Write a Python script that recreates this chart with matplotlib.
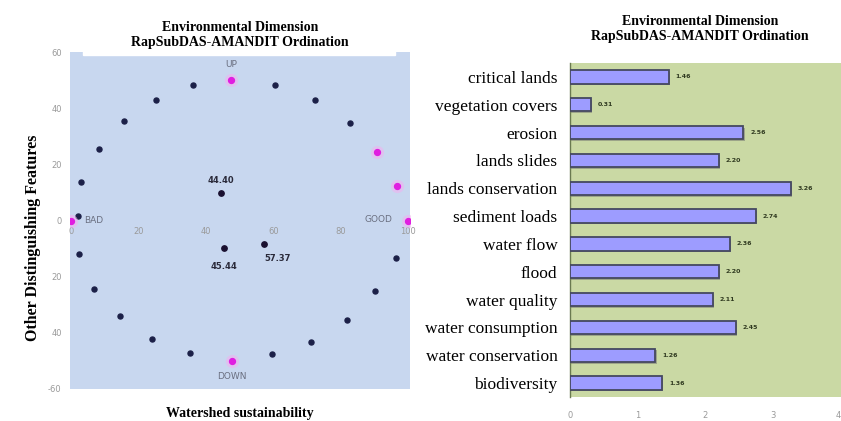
import matplotlib
matplotlib.use("Agg")
import matplotlib.pyplot as plt
from matplotlib.patches import Rectangle
import numpy as np

# ordination scatter (left)
ord_x = [3.0, 8.4, 15.6, 25.3, 36.2, 60.5, 72.4, 82.8,
         2.4, 6.8, 14.5, 24.0, 35.3, 59.6, 71.2, 81.9, 90.2, 96.4, 2.0]
ord_y = [13.6, 25.4, 35.4, 42.9, 48.2, 48.2, 42.9, 34.8,
         -12.1, -24.5, -34.0, -42.2, -47.2, -47.5, -43.3, -35.5, -25.2, -13.5, 1.5]
anchor_x = [0.0, 100.0, 47.6, 47.8, 90.8, 96.7]
anchor_y = [0.0, 0.0, 50.0, -50.0, 24.5, 12.4]
anchor_names = ["BAD", "GOOD", "UP", "DOWN", "", ""]
site_x = [44.40, 45.44, 57.37]
site_y = [9.9, -9.9, -8.2]
site_labels = ["44.40", "45.44", "57.37"]
y_ticks = [60, 40, 20, 0, -20, -40, -60]
y_ticklabels = ["60", "40", "20", "0", "20", "40", "-60"]
x_ticks = [0, 20, 40, 60, 80, 100]

# leverage bars (right)
attributes = ["critical lands", "vegetation covers", "erosion", "lands slides",
              "lands conservation", "sediment loads", "water flow", "flood",
              "water quality", "water consumption", "water conservation", "biodiversity"]
leverage = [1.46, 0.31, 2.56, 2.20, 3.26, 2.74, 2.36, 2.20, 2.11, 2.45, 1.26, 1.36]
bar_ticks = [0, 1, 2, 3, 4]

title = "Environmental Dimension\nRapSubDAS-AMANDIT Ordination"
serif = "Liberation Serif"
W, H = 841, 421

fig = plt.figure(figsize=(W / 100, H / 100), dpi=100)
fig.patch.set_facecolor("white")

# ---------- left panel ----------
ax = fig.add_axes([70 / W, (H - 389) / H, 340 / W, 337 / H])
ax.set_facecolor("#c8d7ef")
ax.set_xlim(-0.3, 100.6)
ax.set_ylim(-60, 60)
for s in ["top", "right", "left"]:
    ax.spines[s].set_visible(False)
ax.spines["bottom"].set_position(("data", 0))
ax.spines["bottom"].set_visible(False)
ax.set_xticks(x_ticks)
ax.set_yticks(y_ticks)
ax.set_yticklabels(y_ticklabels)
ax.tick_params(length=0, labelsize=6, labelcolor="#9a9a9a", pad=6)
ax.tick_params(axis="x", pad=5)

ax.scatter(ord_x, ord_y, s=13, color="#1c2048", zorder=3)
ax.scatter(anchor_x, anchor_y, s=90, color="#f2b0f0", alpha=0.55, linewidths=0, zorder=3)
ax.scatter(anchor_x, anchor_y, s=18, color="#e01ee0", zorder=4)
ax.scatter(site_x, site_y, s=15, color="#1a1030", zorder=4)

offs = {"BAD": (4, 0, "left", "center"), "GOOD": (-4.5, 0.5, "right", "center"),
        "UP": (0, 5.5, "center", "center"), "DOWN": (0, -5.5, "center", "center")}
for xx, yy, nm in zip(anchor_x, anchor_y, anchor_names):
    if nm:
        dx, dy, ha, va = offs[nm]
        ax.text(xx + dx, yy + dy, nm, fontsize=6.5, color="#6a6f80", ha=ha, va=va, zorder=5)
site_offs = [(0, 4.5), (0, -6.5), (4, -5.5)]
for xx, yy, lab, (dx, dy) in zip(site_x, site_y, site_labels, site_offs):
    ax.text(xx + dx, yy + dy, lab, fontsize=6, fontweight="bold", color="#2a2a3a",
            ha="center", va="center", zorder=5)

fig.patches.append(Rectangle((83 / W, (H - 55) / H), 312 / W, 45 / H,
                             transform=fig.transFigure, color="white", zorder=5))
fig.text(240 / W, (H - 35) / H, title, ha="center", va="center", fontsize=10,
         fontweight="bold", family=serif, zorder=6, linespacing=1.25)
fig.text(33 / W, (H - 238) / H, "Other Distinguishing Features", rotation=90,
         ha="center", va="center", fontsize=11.5, fontweight="bold", family=serif)
fig.text(240 / W, (H - 413) / H, "Watershed sustainability", ha="center",
         va="center", fontsize=10, fontweight="bold", family=serif)

# ---------- right panel ----------
bx = fig.add_axes([570 / W, (H - 397) / H, 271 / W, 334 / H])
bx.set_facecolor("#cad9a4")
ypos = np.arange(len(attributes))
bx.barh(ypos + 0.06, leverage, height=0.48, left=0.02, color="#707070", alpha=0.5, zorder=2)
bx.barh(ypos, leverage, height=0.48, color="#9d9cff", edgecolor="#454860",
        linewidth=1.3, zorder=3)
for yy, v in zip(ypos, leverage):
    bx.text(v + 0.1, yy, f"{v:.2f}", fontsize=4.5, fontweight="bold",
            color="#303a20", va="center", ha="left", zorder=4)
bx.set_ylim(len(attributes) - 0.5, -0.5)
bx.set_xlim(0, 3.98)
bx.set_yticks(ypos)
bx.set_yticklabels(attributes, family=serif, fontsize=12.5)
bx.set_xticks(bar_ticks)
bx.tick_params(axis="y", length=0, pad=9)
bx.tick_params(axis="x", length=0, labelsize=6, labelcolor="#9a9a9a", pad=10)
bx.get_xticklabels()[-1].set_horizontalalignment("right")
for s in ["top", "right", "bottom"]:
    bx.spines[s].set_visible(False)
bx.spines["left"].set_color("#6a7a50")
bx.spines["left"].set_linewidth(1.0)

fig.text(700 / W, (H - 29) / H, title, ha="center", va="center", fontsize=10,
         fontweight="bold", family=serif, linespacing=1.25)

fig.savefig("out.png", dpi=100, facecolor="white")
